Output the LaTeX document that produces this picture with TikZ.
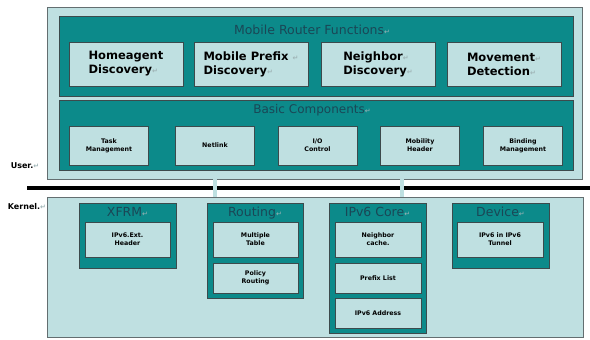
\documentclass[tikz,border=0pt]{standalone}
\usepackage{fontspec}
\setmainfont{DejaVu Sans}
\usepackage{xcolor}
\usepackage{tikz}
\usetikzlibrary{positioning, calc}
\definecolor{PaleTeal}{HTML}{BFE0E1}
\definecolor{DeepTeal}{HTML}{0C8A8A}
\definecolor{EdgeGray}{HTML}{3C4A4C}
\definecolor{TitleInk}{HTML}{1A4756}
\definecolor{MarkGray}{HTML}{9FB4B6}
\newcommand{\pmark}{\textcolor{MarkGray}{\fontsize{7}{8}\selectfont ↵}}

\tikzset{
  layer/.style={draw=EdgeGray!80, fill=PaleTeal, line width=0.8pt, inner sep=0pt},
  group/.style={draw=EdgeGray, fill=DeepTeal, line width=0.8pt, inner sep=0pt},
  funcbox/.style={draw=EdgeGray, fill=PaleTeal, line width=0.7pt, align=left,
    minimum width=114pt, minimum height=44pt,
    font=\bfseries\fontsize{11.5}{14}\selectfont},
  partbox/.style={draw=EdgeGray, fill=PaleTeal, line width=0.7pt, align=center,
    font=\bfseries\fontsize{6.3}{8}\selectfont},
  grouptitle/.style={text=TitleInk, font=\fontsize{12.5}{14}\selectfont},
  sidelabel/.style={font=\bfseries\fontsize{8}{9}\selectfont},
  post/.style={draw=EdgeGray!70, double=PaleTeal, double distance=3.6pt, line width=0.6pt}
}

\begin{document}
\begin{tikzpicture}[x=1pt, y=-1pt]
  \useasboundingbox (0,0) rectangle (590,340);
  % user space
  \node[layer, minimum width=535pt, minimum height=172pt] (user) at (314.5,93){};
  \node[group, minimum width=514pt, minimum height=80pt] (mrf) at (316,56){};
  \node[grouptitle] (mrftitle) at (312,30){Mobile Router Functions\pmark};
  \foreach \cx/\nm/\txt in {126/home/{Homeagent\\Discovery\pmark},
      251/prefix/{Mobile Prefix \pmark\\Discovery\pmark},
      378/neigh/{Neighbor\pmark\\Discovery\pmark},
      504/move/{Movement\pmark\\Detection\pmark}}{
    \node[funcbox] (\nm) at (\cx,64){\txt};}
  \node[group, minimum width=514pt, minimum height=70pt] (basic) at (316,135){};
  \node[grouptitle, font=\fontsize{12}{14}\selectfont] (basictitle) at (312,110){Basic Components\pmark};
  \foreach \cx/\nm/\txt in {109/task/{Task\\Management}, 215/netlink/{Netlink},
      317.5/io/{I/O\\Control}, 420/mobhdr/{Mobility\\Header}, 523/binding/{Binding\\Management}}{
    \node[partbox, minimum width=79pt, minimum height=39pt] (\nm) at (\cx,145.5){\txt};}
  % user / kernel border
  \node[sidelabel] (userlbl) at (25,166){User.\pmark};
  \node[sidelabel] (kernlbl) at (27,207){Kernel.\pmark};
  \coordinate (barL) at (27,188);
  \coordinate (barR) at (590,188);
  \draw[line width=4pt, black] (barL) -- (barR);
  % kernel space
  \node[layer, minimum width=536pt, minimum height=140pt] (kernel) at (315,267){};
  \coordinate (postB) at (402,0);
  \draw[post] (netlink.south |- user.south) -- (netlink.south |- kernel.north);
  \draw[post] (postB |- user.south) -- (postB |- kernel.north);
  \node[group, minimum width=97pt, minimum height=65pt] (xfrm) at (127.5,235.5){};
  \node[group, minimum width=96pt, minimum height=95pt] (routing) at (255,250.5){};
  \node[group, minimum width=97pt, minimum height=130pt] (core) at (377.5,268){};
  \node[group, minimum width=97pt, minimum height=65pt] (device) at (500.5,235.5){};
  \foreach \g/\txt in {xfrm/XFRM, routing/Routing, core/IPv6 Core, device/Device}{
    \node[grouptitle, below=1pt of \g.north] (\g title) {\txt\pmark};}
  \node[partbox, minimum width=85pt, minimum height=35pt] (extheader) at (127.5,239.5){IPv6.Ext.\\Header};
  \node[partbox, minimum width=85pt, minimum height=35pt] (multitable) at (255.5,239.5){Multiple\\Table};
  \node[partbox, minimum width=85pt, minimum height=30pt] (policy) at (255.5,278){Policy\\Routing};
  \node[partbox, minimum width=86pt, minimum height=35pt] (ncache) at (378,239.5){Neighbor\\cache.};
  \node[partbox, minimum width=86pt, minimum height=30pt] (plist) at (378,278){Prefix List};
  \node[partbox, minimum width=86pt, minimum height=30pt] (addr) at (378,313){IPv6 Address};
  \node[partbox, minimum width=86pt, minimum height=35pt] (tunnel) at (500,239.5){IPv6 in IPv6\\Tunnel};
\end{tikzpicture}
\end{document}
